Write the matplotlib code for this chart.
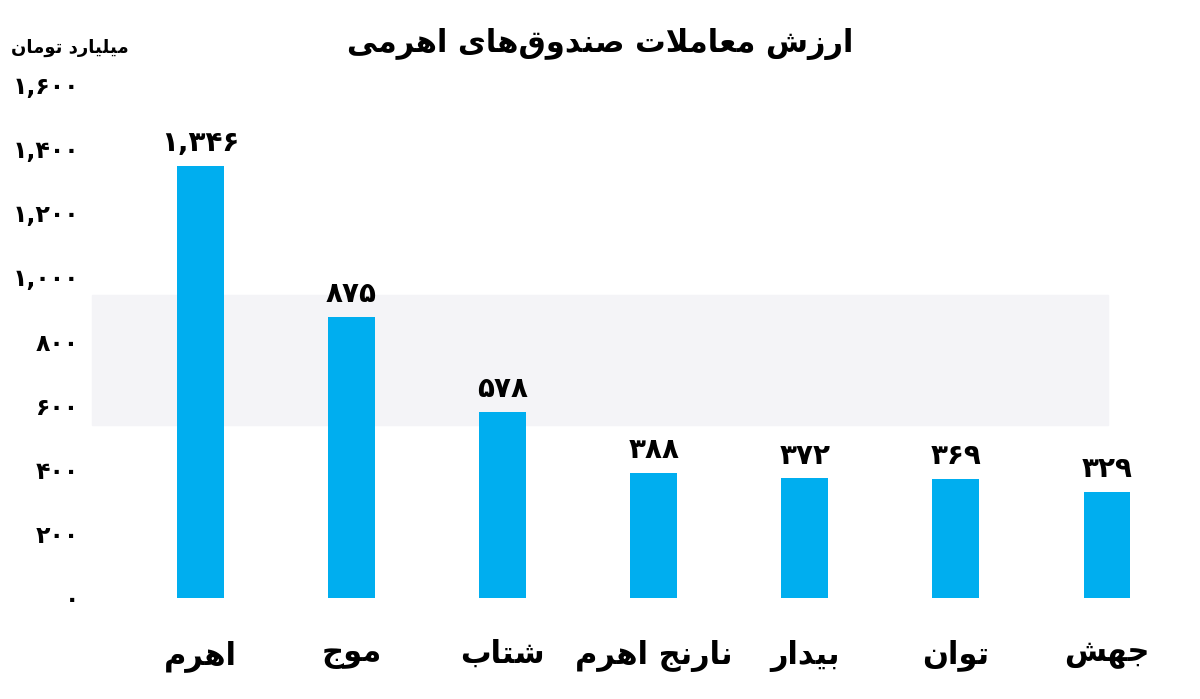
import matplotlib.pyplot as plt

# minimal Persian shaping (matplotlib has no RTL/joining support)
FORMS = {
    'ا': (0xFE8D, 0xFE8E, None, None), 'ب': (0xFE8F, 0xFE90, 0xFE91, 0xFE92),
    'ت': (0xFE95, 0xFE96, 0xFE97, 0xFE98), 'ج': (0xFE9D, 0xFE9E, 0xFE9F, 0xFEA0),
    'د': (0xFEA9, 0xFEAA, None, None), 'ر': (0xFEAD, 0xFEAE, None, None),
    'ز': (0xFEAF, 0xFEB0, None, None), 'ش': (0xFEB5, 0xFEB6, 0xFEB7, 0xFEB8),
    'ص': (0xFEB9, 0xFEBA, 0xFEBB, 0xFEBC), 'ع': (0xFEC9, 0xFECA, 0xFECB, 0xFECC),
    'ق': (0xFED5, 0xFED6, 0xFED7, 0xFED8), 'ل': (0xFEDD, 0xFEDE, 0xFEDF, 0xFEE0),
    'م': (0xFEE1, 0xFEE2, 0xFEE3, 0xFEE4), 'ن': (0xFEE5, 0xFEE6, 0xFEE7, 0xFEE8),
    'ه': (0xFEE9, 0xFEEA, 0xFEEB, 0xFEEC), 'و': (0xFEED, 0xFEEE, None, None),
    'ی': (0xFBFC, 0xFBFD, 0xFBFE, 0xFBFF),
}


def shape(text):
    text = text.replace('لا', '\uFFFF')
    out = []
    chars = list(text)
    for i, c in enumerate(chars):
        if c == '\uFFFF':
            prev = chars[i - 1] if i > 0 else ''
            joined = prev in FORMS and FORMS[prev][2] is not None
            out.append(chr(0xFEFC if joined else 0xFEFB))
            continue
        if c not in FORMS:
            if c != '\u200c':
                out.append(c)
            continue
        prev = chars[i - 1] if i > 0 else ''
        nxt = chars[i + 1] if i + 1 < len(chars) else ''
        jp = prev in FORMS and FORMS[prev][2] is not None
        jn = (nxt in FORMS or nxt == '\uFFFF') and FORMS[c][2] is not None
        iso, fin, ini, med = FORMS[c]
        if jp and jn:
            out.append(chr(med))
        elif jp:
            out.append(chr(fin))
        elif jn:
            out.append(chr(ini))
        else:
            out.append(chr(iso))
    return ''.join(reversed(out))


def fa_num(n):
    s = f'{n:,}'
    return s.translate(str.maketrans('0123456789', '۰۱۲۳۴۵۶۷۸۹'))


categories = ['اهرم', 'موج', 'شتاب', 'نارنج اهرم', 'بیدار', 'توان', 'جهش']
values = [1346, 875, 578, 388, 372, 369, 329]
yticks = [0, 200, 400, 600, 800, 1000, 1200, 1400, 1600]
title = 'ارزش معاملات صندوق‌های اهرمی'
unit = 'میلیارد تومان'

plt.rcParams['font.family'] = ['DejaVu Sans']
fig = plt.figure(figsize=(12, 6.99), dpi=100)
ax = fig.add_axes([0.075, 0.1445, 0.879, 0.7353])

x = range(len(categories))
ax.axhspan(538, 943, xmin=0.002, xmax=0.965, color='#f4f4f7', zorder=0)
ax.bar(x, values, width=0.31, color='#00AEEF', zorder=2)
for i, v in zip(x, values):
    ax.text(i, v + 28, fa_num(v), ha='center', va='bottom', fontsize=20, fontweight='bold')

ax.set_xlim(-0.73, 6.25)
ax.set_ylim(0, 1600)
ax.set_yticks(yticks)
ax.set_yticklabels([fa_num(t) for t in yticks], fontsize=17, fontweight='bold')
ax.set_xticks(list(x))
ax.set_xticklabels([shape(c) for c in categories], fontsize=22, fontweight='bold')
ax.tick_params(length=0)
ax.tick_params(axis='x', pad=30)
ax.tick_params(axis='y', pad=8)
for s in ax.spines.values():
    s.set_visible(False)

fig.text(0.5, 0.937, shape(title), ha='center', va='center', fontsize=22, fontweight='bold')
fig.text(0.058, 0.931, shape(unit), ha='center', va='center', fontsize=13, fontweight='bold')

fig.savefig('out.png', dpi=100)
